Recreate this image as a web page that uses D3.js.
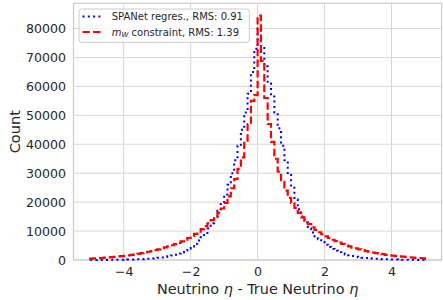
<!DOCTYPE html>
<html>
<head>
<meta charset="utf-8">
<script src="https://cdn.jsdelivr.net/npm/d3@7"></script>
<style>
  html, body { margin: 0; padding: 0; background: #ffffff; }
  svg { display: block; }
</style>
</head>
<body>
<svg id="chart" width="443" height="300"></svg>
<script>
// ---------------- data ----------------
const binStart = -5.0;
const binWidth = 0.1;
const binCount = 100;

const seriesNames = ["SPANet regres., RMS: 0.91", "m_W constraint, RMS: 1.39"];

// SPANet regression (blue dotted), bins from -5.0 to 5.0, width 0.1
const spanetCounts = [
  20, 25, 30, 35, 40, 50, 60, 70, 80, 100,
  120, 140, 170, 200, 240, 290, 350, 420, 510, 620,
  750, 900, 1080, 1300, 1550, 1850, 2250, 2700, 3250, 3900,
  4700, 5600, 6700, 7900, 9300, 10900, 12700, 14800, 17100, 19700,
  22600, 26000, 30000, 34500, 39500, 45000, 51000, 57500, 65000, 73000,
  80000, 74000, 67000, 61000, 56500, 51000, 45500, 39500, 34500, 29500,
  25000, 21000, 17500, 15000, 13000, 11000, 9500, 8200, 7200, 6200,
  5300, 4500, 3800, 3200, 2700, 2250, 1900, 1600, 1350, 1150,
  950, 800, 680, 570, 480, 400, 340, 280, 240, 200,
  170, 140, 120, 100, 85, 70, 60, 50, 40, 30
];

// m_W constraint (red dashed)
const mwCounts = [
  500, 550, 650, 700, 800, 900, 1000, 1100, 1250, 1350,
  1450, 1600, 1750, 1950, 2150, 2350, 2600, 2850, 3100, 3400,
  3700, 4000, 4350, 4700, 5100, 5500, 5950, 6450, 7000, 7600,
  8300, 9000, 9800, 10700, 11700, 12700, 13800, 15000, 16300, 17800,
  19700, 22000, 24800, 28000, 31500, 35500, 40500, 47000, 55000, 57000,
  84500, 68800, 56000, 47000, 40800, 35000, 30500, 27000, 24000, 21500,
  19700, 18000, 16300, 14700, 13500, 12400, 11300, 10400, 9600, 8900,
  8200, 7600, 7000, 6500, 6000, 5600, 5100, 4700, 4300, 4000,
  3700, 3400, 3100, 2850, 2600, 2400, 2200, 2000, 1800, 1650,
  1500, 1350, 1250, 1150, 1050, 950, 850, 750, 700, 600
];

const xTicks = [-4, -2, 0, 2, 4];
const yTicks = [0, 10000, 20000, 30000, 40000, 50000, 60000, 70000, 80000];

// ---------------- layout ----------------
const svg = d3.select("#chart");
const L = 73.5, R = 441.7, T = 3.3, B = 260;
const font = "'DejaVu Sans', sans-serif";
const textColor = "#262626";
const gridColor = "#d6d6d6";

const edges = d3.range(binCount + 1).map(i => +(binStart + i * binWidth).toFixed(4));
const xmin = edges[0], xmax = edges[edges.length - 1];
const pad = (xmax - xmin) * 0.05;
const ymax = d3.max([...spanetCounts, ...mwCounts]) * 1.05;

const x = d3.scaleLinear().domain([xmin - pad, xmax + pad]).range([L, R]);
const y = d3.scaleLinear().domain([0, ymax]).range([B, T]);

// grid
svg.append("g").selectAll("line").data(xTicks).join("line")
  .attr("x1", d => x(d)).attr("x2", d => x(d))
  .attr("y1", T).attr("y2", B)
  .attr("stroke", gridColor).attr("stroke-width", 1);
svg.append("g").selectAll("line").data(yTicks).join("line")
  .attr("x1", L).attr("x2", R)
  .attr("y1", d => y(d)).attr("y2", d => y(d))
  .attr("stroke", gridColor).attr("stroke-width", 1);

// frame
svg.append("rect").attr("x", L).attr("y", T)
  .attr("width", R - L).attr("height", B - T)
  .attr("fill", "none").attr("stroke", "#cccccc").attr("stroke-width", 1.2);

// axes
const minus = v => (v < 0 ? "\u2212" + Math.abs(v) : String(v));
const xAxis = svg.append("g").attr("transform", `translate(0,${B})`)
  .call(d3.axisBottom(x).tickValues(xTicks).tickSize(0).tickPadding(7.5).tickFormat(minus));
const yAxis = svg.append("g").attr("transform", `translate(${L},0)`)
  .call(d3.axisLeft(y).tickValues(yTicks).tickSize(0).tickPadding(7.5).tickFormat(d3.format("d")));
[xAxis, yAxis].forEach(g => {
  g.select(".domain").remove();
  g.selectAll("text").attr("font-family", font).attr("font-size", 12.6).attr("fill", textColor);
});

// histogram step outlines
function stepPoints(counts) {
  const pts = [[edges[0], 0]];
  counts.forEach((c, i) => { pts.push([edges[i], c]); pts.push([edges[i + 1], c]); });
  pts.push([edges[edges.length - 1], 0]);
  return pts;
}
const line = d3.line().x(d => x(d[0])).y(d => y(d[1]));

svg.append("path").datum(stepPoints(spanetCounts))
  .attr("d", line).attr("fill", "none")
  .attr("stroke", "#0000ff").attr("stroke-width", 2)
  .attr("stroke-dasharray", "2,3.3").attr("stroke-linejoin", "miter");
svg.append("path").datum(stepPoints(mwCounts))
  .attr("d", line).attr("fill", "none")
  .attr("stroke", "#ff0000").attr("stroke-width", 2.2)
  .attr("stroke-dasharray", "7.4,3.2").attr("stroke-linejoin", "miter");

// axis labels
const xl = svg.append("text").attr("x", (L + R) / 2).attr("y", 293.5)
  .attr("text-anchor", "middle").attr("font-family", font).attr("font-size", 14.4).attr("fill", textColor);
xl.append("tspan").text("Neutrino ");
xl.append("tspan").attr("font-style", "italic").text("\u03b7");
xl.append("tspan").text(" - True Neutrino ");
xl.append("tspan").attr("font-style", "italic").text("\u03b7");

svg.append("text").attr("transform", `translate(19.5,${(T + B) / 2}) rotate(-90)`)
  .attr("text-anchor", "middle").attr("font-family", font).attr("font-size", 14.6)
  .attr("fill", textColor).text("Count");

// legend
const lg = svg.append("g");
lg.append("rect").attr("x", 79).attr("y", 9).attr("width", 170.3).attr("height", 33.3)
  .attr("rx", 2.5).attr("fill", "#ffffff").attr("fill-opacity", 0.8)
  .attr("stroke", "#cccccc").attr("stroke-width", 1);
const rows = [
  { y: 16.5, color: "#0000ff", dash: "2,3.3", w: 2 },
  { y: 32, color: "#ff0000", dash: "7.4,3.2", w: 2.2 }
];
rows.forEach((r, i) => {
  lg.append("line").attr("x1", 82.5).attr("x2", 103.5).attr("y1", r.y).attr("y2", r.y)
    .attr("stroke", r.color).attr("stroke-width", r.w).attr("stroke-dasharray", r.dash);
});
lg.append("text").attr("x", 111.7).attr("y", 16.5).attr("dy", "0.36em")
  .attr("font-family", font).attr("font-size", 10).attr("fill", textColor)
  .text(seriesNames[0]);
const t2 = lg.append("text").attr("x", 111.7).attr("y", 32).attr("dy", "0.36em")
  .attr("font-family", font).attr("font-size", 10).attr("fill", textColor);
t2.append("tspan").attr("font-style", "italic").text("m");
t2.append("tspan").attr("font-style", "italic").attr("font-size", 7).attr("dy", "0.25em").text("W");
t2.append("tspan").attr("dy", "-0.175em").text(" constraint, RMS: 1.39");
</script>
</body>
</html>
